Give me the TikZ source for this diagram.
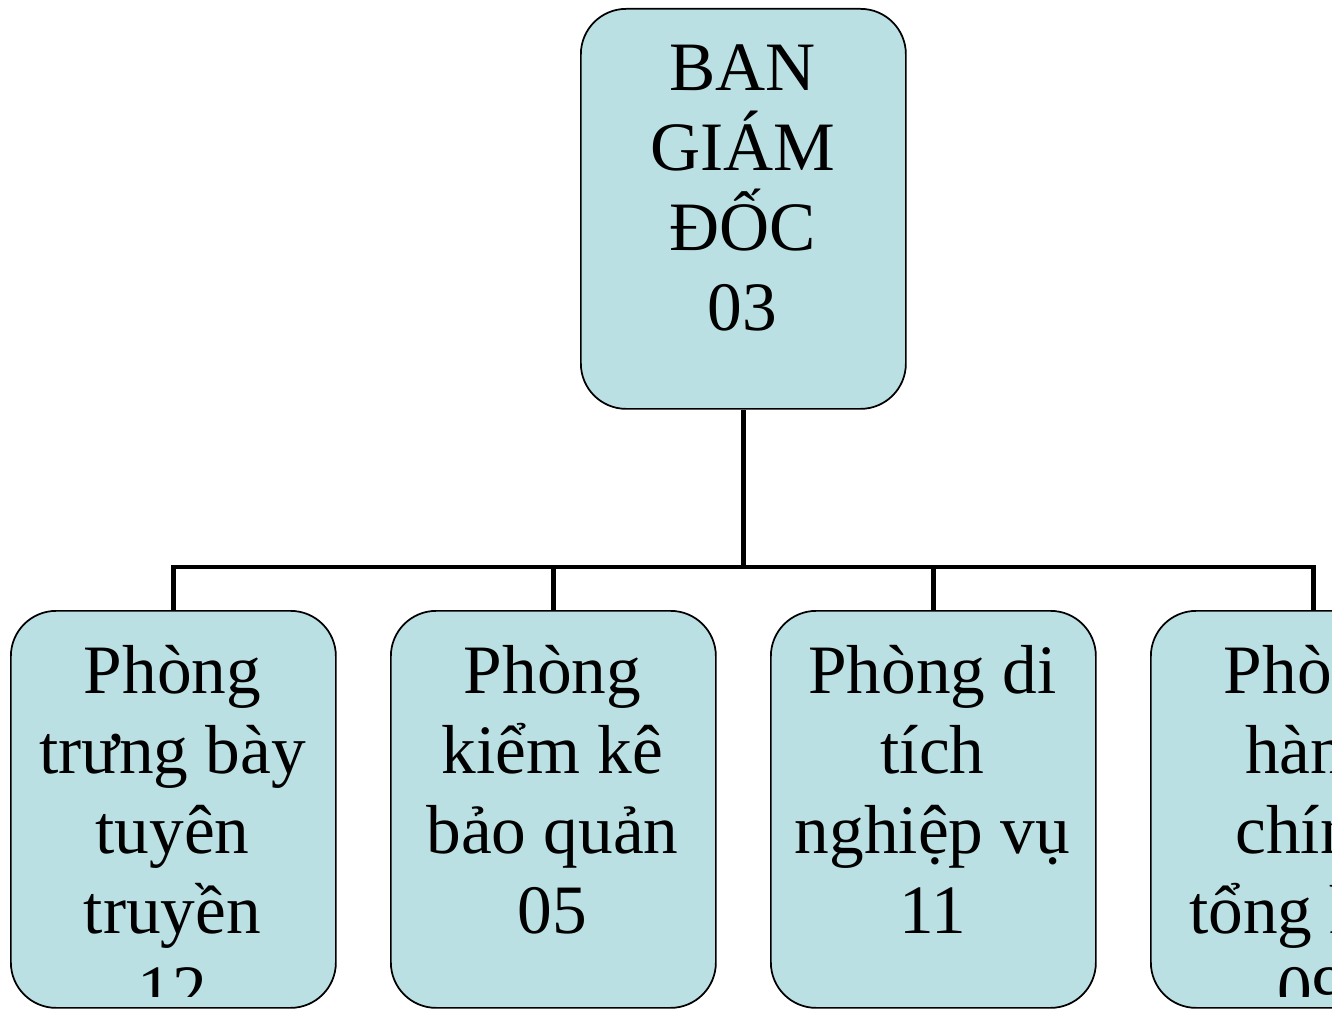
\documentclass[tikz,border=0pt]{standalone}
\usepackage{fontspec}
\setmainfont{Liberation Serif}
\definecolor{boxfill}{RGB}{187,224,227}
\begin{document}
\begin{tikzpicture}[x=0.75pt,y=-0.75pt,
  box/.style={draw=black, line width=1.3pt, fill=boxfill, rounded corners=34pt,
    minimum width=243.75pt, inner sep=0pt, anchor=north west},
  topbox/.style={box, minimum height=300pt},
  lowbox/.style={box, minimum height=297.75pt},
  label/.style={align=center, anchor=north, inner sep=0pt,
    font=\fontsize{52}{60}\selectfont},
  conn/.style={draw=black, line width=3.6pt, line join=miter}]
\useasboundingbox (0,0) rectangle (1332,1009);
\node[topbox] (top) at (580,8) {};
\node[lowbox] (b1) at (10,610) {};
\node[lowbox] (b2) at (390,610) {};
\node[lowbox] (b3) at (770,610) {};
\node[lowbox] (b4) at (1150,610) {};
\coordinate (bus) at (743,567);
\draw[conn] (top.south) -- (top.south |- bus);
\draw[conn] (b1.north) -- (b1.north |- bus) -- (b4.north |- bus) -- (b4.north);
\draw[conn] (b2.north) -- (b2.north |- bus);
\draw[conn] (b3.north) -- (b3.north |- bus);
\node[label] (ttop) at (742.5,25) {\rule{0pt}{48.6pt}BAN\\GIÁM\\ĐỐC\\03};
\begin{scope}
\clip (0,0) rectangle (1332,996);
\node[label] (t1) at (172.5,628) {\rule{0pt}{48.6pt}Phòng\\trưng bày\\tuyên\\truyền\\12};
\node[label] (t2) at (552.5,628) {\rule{0pt}{48.6pt}Phòng\\kiểm kê\\bảo quản\\05};
\node[label] (t3) at (932.5,628) {\rule{0pt}{48.6pt}Phòng di\\tích\\nghiệp vụ\\11};
\node[label] (t4) at (1312.5,628) {\rule{0pt}{48.6pt}Phòng\\hành\\chính\\tổng hợp\\09};
\end{scope}
\end{tikzpicture}
\end{document}
